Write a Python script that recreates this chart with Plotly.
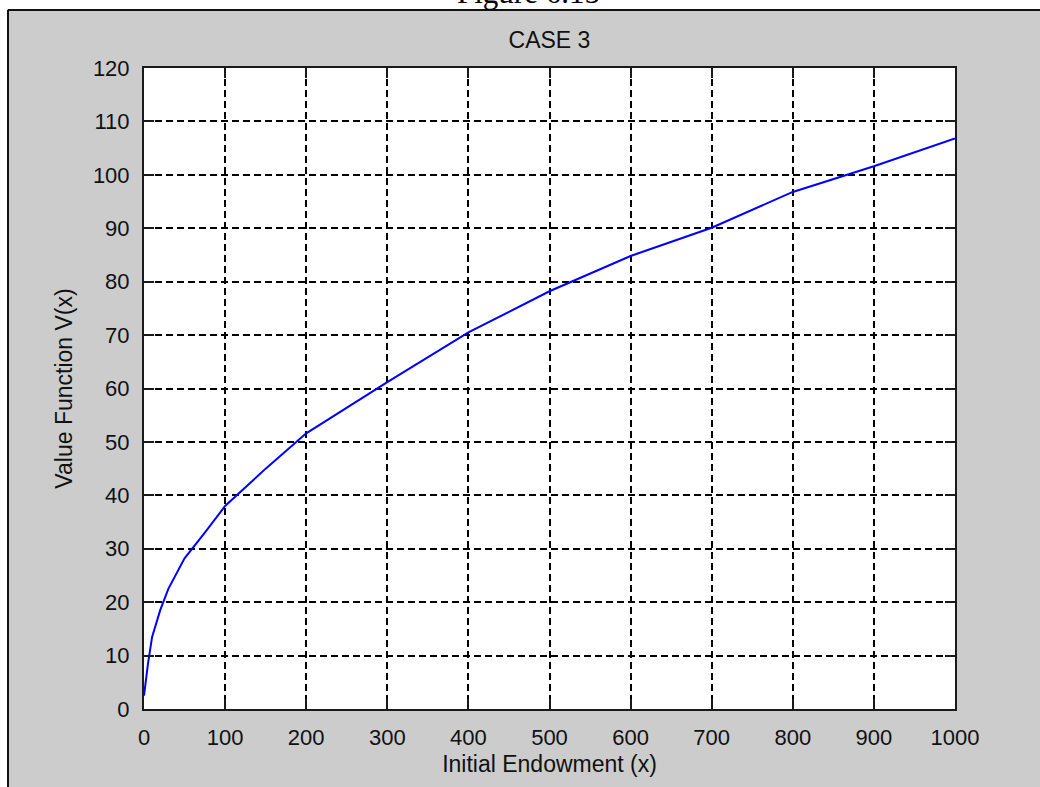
import plotly.graph_objects as go

# ---- data ----
endowment = [0, 5, 10, 20, 30, 50, 75, 100, 150, 200, 300, 400, 500, 600, 700, 800, 900, 1000]
value_fn = [2.5, 8.6, 13.5, 18.5, 22.5, 28.2, 33.0, 38.0, 45.0, 51.6, 61.2, 70.5, 78.2, 84.8, 90.1, 96.8, 101.6, 106.8]
x_ticks = [0, 100, 200, 300, 400, 500, 600, 700, 800, 900, 1000]
y_ticks = [0, 10, 20, 30, 40, 50, 60, 70, 80, 90, 100, 110, 120]

W, H = 1040, 787
L, R, T, B = 144, 85, 68, 78
PW, PH = W - L - R, H - T - B


def px_x(p):
    return (p - L) / PW


def px_y(p):
    return (H - B - p) / PH


GRAY = "#cccccc"
FONT = "Liberation Sans, Arial, sans-serif"

fig = go.Figure()
fig.add_trace(go.Scatter(x=endowment, y=value_fn, mode="lines",
                         line=dict(color="#0000ff", width=2),
                         showlegend=False, hoverinfo="skip"))

axis_common = dict(
    showline=True, linecolor="#1a1a1a", linewidth=2, mirror="ticks",
    ticks="inside", ticklen=10, tickwidth=1.5, tickcolor="#1a1a1a",
    showgrid=True, gridcolor="#000000", gridwidth=1.5, griddash="7px,4px",
    zeroline=False, tickfont=dict(family=FONT, size=22, color="#111111"),
    automargin=False, ticklabelstandoff=8,
)

fig.update_xaxes(range=[0, 1000], tickvals=x_ticks, ticktext=[str(v) for v in x_ticks],
                 title=dict(text="Initial Endowment (x)", font=dict(family=FONT, size=23, color="#111111"),
                            standoff=6),
                 **axis_common)
fig.update_yaxes(range=[0, 120], tickvals=y_ticks, ticktext=[str(v) for v in y_ticks],
                 title=dict(text="Value Function V(x)", font=dict(family=FONT, size=23, color="#111111"),
                            standoff=14),
                 **axis_common)

shapes = [
    # white strip on top and left (outside the figure window)
    dict(type="rect", xref="paper", yref="paper", x0=px_x(-5), x1=px_x(W + 5),
         y0=px_y(9), y1=px_y(-5), fillcolor="white", line=dict(width=0), layer="below"),
    dict(type="rect", xref="paper", yref="paper", x0=px_x(-5), x1=px_x(7),
         y0=px_y(H + 5), y1=px_y(-5), fillcolor="white", line=dict(width=0), layer="below"),
    # dark window border
    dict(type="line", xref="paper", yref="paper", x0=px_x(8), x1=px_x(W + 5),
         y0=px_y(10), y1=px_y(10), line=dict(color="#111111", width=2), layer="below"),
    dict(type="line", xref="paper", yref="paper", x0=px_x(8), x1=px_x(8),
         y0=px_y(10), y1=px_y(H + 5), line=dict(color="#111111", width=2), layer="below"),
]

fig.update_layout(
    width=W, height=H,
    margin=dict(l=L, r=R, t=T, b=B, pad=0),
    paper_bgcolor=GRAY, plot_bgcolor="white",
    title=dict(text="CASE 3", x=0.5, xref="paper", xanchor="center",
               y=1 - 40 / H, yref="container", yanchor="middle",
               font=dict(family=FONT, size=23, color="#111111")),
    shapes=shapes,
    annotations=[dict(text="Figure 6.15", xref="paper", yref="paper",
                      x=px_x(528), y=px_y(12), xanchor="center", yanchor="bottom",
                      showarrow=False, font=dict(family="Liberation Serif, Times New Roman, serif",
                                                 size=31, color="#000000"))],
)

fig.write_html("out.html",
               config={"displayModeBar": False},
               post_script="document.body.style.margin='0';document.body.style.overflow='hidden';")
